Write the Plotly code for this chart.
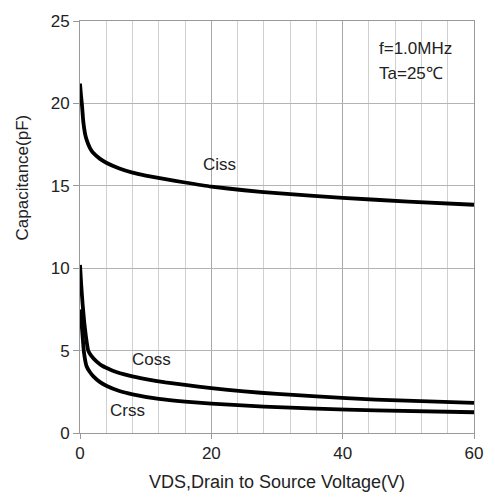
import plotly.graph_objects as go

# Capacitance vs drain-source voltage (f = 1.0 MHz, Ta = 25°C)
ciss_v = [0, 0.15, 0.3, 0.5, 0.75, 1, 1.5, 2, 3, 4, 6, 8, 10, 13, 16, 20, 25, 30, 40, 50, 60]
ciss_c = [21.2, 20.5, 19.9, 18.9, 18.2, 17.8, 17.3, 17.0, 16.65, 16.4, 16.05, 15.8, 15.62, 15.4,
          15.2, 14.95, 14.73, 14.55, 14.27, 14.04, 13.85]

coss_v = [0, 0.2, 0.4, 0.65, 0.9, 1.25, 1.7, 2.5, 3.5, 4, 5, 7.5, 10, 13, 16, 20, 25, 30, 36, 45, 60]
coss_c = [10.2, 8.9, 7.8, 6.7, 5.85, 5.0, 4.7, 4.35, 4.05, 3.96, 3.78, 3.48, 3.27, 3.07, 2.92,
          2.72, 2.52, 2.37, 2.22, 2.03, 1.83]

crss_v = [0.1, 0.25, 0.4, 0.6, 1, 1.5, 2, 3, 4, 6, 8, 12, 16, 20, 28, 36, 45, 60]
crss_c = [7.5, 6.6, 5.85, 4.9, 4.05, 3.7, 3.45, 3.1, 2.87, 2.55, 2.35, 2.07, 1.9, 1.78, 1.6,
          1.48, 1.37, 1.26]

x_ticks = [0, 20, 40, 60]
y_ticks = [0, 5, 10, 15, 20, 25]

FONT = "Liberation Sans, Arial, sans-serif"
TXT = "#222"
line_style = dict(color="black", width=3.8, shape="spline", smoothing=0.4)

fig = go.Figure()
for v, c in [(ciss_v, ciss_c), (coss_v, coss_c), (crss_v, crss_c)]:
    fig.add_trace(go.Scatter(x=v, y=c, mode="lines", line=line_style,
                             showlegend=False, hoverinfo="skip"))

labels = [("Ciss", 21.2, 16.3), ("Coss", 10.9, 4.45), ("Crss", 7.2, 1.35)]
for txt, xv, yv in labels:
    fig.add_annotation(x=xv, y=yv, text=txt, showarrow=False,
                       font=dict(size=17, color=TXT, family=FONT))

fig.add_annotation(xref="paper", yref="paper", x=0.755, y=0.962, xanchor="left",
                   text="f=1.0MHz", showarrow=False,
                   font=dict(size=17, color=TXT, family=FONT))
fig.add_annotation(xref="paper", yref="paper", x=0.755, y=0.9, xanchor="left",
                   text="Ta=25℃", showarrow=False,
                   font=dict(size=17, color=TXT, family=FONT))

fig.add_annotation(xref="paper", yref="paper", x=-0.145, y=0.62, xanchor="center",
                   yanchor="middle", textangle=-90, text="Capacitance(pF)",
                   showarrow=False, font=dict(size=17, color=TXT, family=FONT))

fig.update_xaxes(range=[0, 60], tickvals=x_ticks, ticks="outside", ticklen=5,
                 tickcolor="#999", showgrid=True, gridcolor="#a8a8a8", gridwidth=1,
                 minor=dict(dtick=4, showgrid=True, gridcolor="#d0d0d0", gridwidth=1),
                 showline=True, linecolor="#999", mirror=True, zeroline=False,
                 ticklabeloverflow="allow",
                 tickfont=dict(size=17, color=TXT, family=FONT),
                 title=dict(text="VDS,Drain to Source Voltage(V)", standoff=12,
                            font=dict(size=18, color=TXT, family=FONT)))
fig.update_yaxes(range=[0, 25], tickvals=y_ticks, ticks="outside", ticklen=6,
                 tickcolor="#999", showgrid=True, gridcolor="#b4b4b4", gridwidth=1,
                 showline=True, linecolor="#999", mirror=True, zeroline=False,
                 tickfont=dict(size=17, color=TXT, family=FONT))

fig.update_layout(width=495, height=500, margin=dict(l=80, r=15, t=17, b=64),
                  plot_bgcolor="white", paper_bgcolor="white")

fig.write_html("out.html")
